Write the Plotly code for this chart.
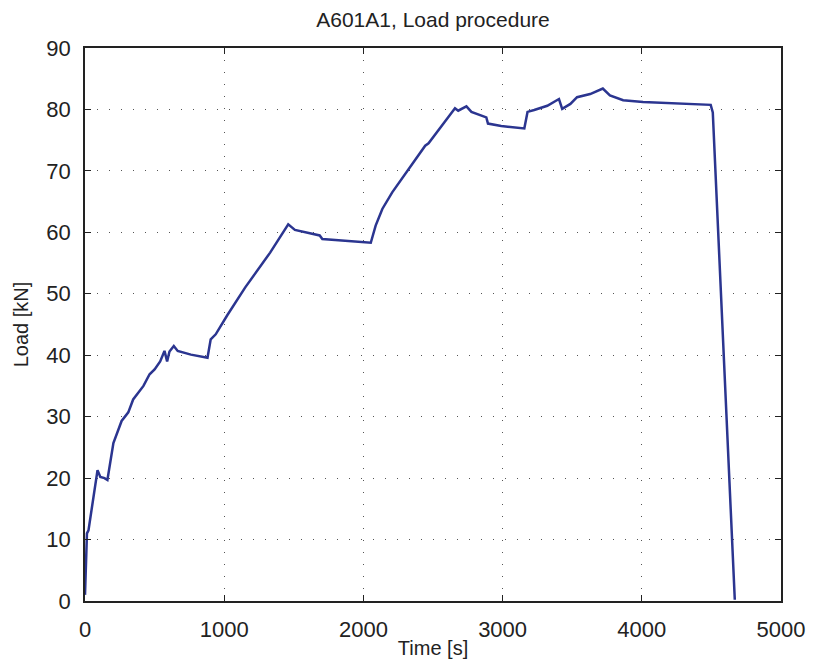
import plotly.graph_objects as go

# load history
time_s = [0, 5, 14, 25, 50, 90, 110, 140, 161, 180, 204, 263, 311, 346,
          420, 464, 500, 540, 571, 590, 607, 638, 666, 761, 880,
          903, 939, 1022, 1150, 1330, 1460, 1508, 1614, 1686, 1705,
          1922, 2053, 2088, 2136, 2207, 2326, 2444, 2468, 2563, 2658,
          2681, 2740, 2776, 2883, 2895, 2990, 3156, 3179, 3227, 3321,
          3405, 3428, 3487, 3535, 3629, 3720, 3771, 3866, 4009, 4222,
          4436, 4495, 4510, 4668]
load_kn = [1.0, 4.0, 11.0, 11.5, 15.5, 21.3, 20.2, 20.0, 19.7, 22.5, 25.7, 29.3, 30.7, 32.8,
           35.0, 36.9, 37.7, 39.0, 40.7, 39.0, 40.6, 41.5, 40.7, 40.1, 39.6,
           42.6, 43.4, 46.5, 51.0, 56.7, 61.3, 60.4, 59.9, 59.5, 58.9,
           58.5, 58.3, 61.1, 63.8, 66.5, 70.3, 74.1, 74.5, 77.4, 80.2,
           79.8, 80.5, 79.6, 78.7, 77.7, 77.3, 76.9, 79.6, 79.9, 80.6,
           81.7, 80.1, 80.9, 82.0, 82.5, 83.4, 82.3, 81.5, 81.2, 81.0,
           80.9, 80.75, 79.5, 0.2]

x_ticks = [0, 1000, 2000, 3000, 4000, 5000]
y_ticks = [0, 10, 20, 30, 40, 50, 60, 70, 80, 90]

fig = go.Figure()
fig.add_trace(go.Scatter(x=time_s, y=load_kn, mode="lines",
                         line=dict(color="#2b3590", width=2.5),
                         showlegend=False))

axis_style = dict(showline=True, linecolor="#222222", linewidth=1.5, mirror="ticks",
                  ticks="inside", ticklen=6, tickcolor="#222222", tickwidth=1,
                  showgrid=True, gridcolor="#555555", gridwidth=1, griddash="1px,11px",
                  zeroline=False, ticklabelstandoff=8,
                  tickfont=dict(size=22, color="#222222"))

fig.update_xaxes(range=[0, 5000], tickvals=x_ticks,
                 title=dict(text="Time [s]", font=dict(size=20, color="#222222"), standoff=0),
                 **axis_style)
fig.update_yaxes(range=[0, 90], tickvals=y_ticks,
                 title=dict(text="Load [kN]", font=dict(size=20, color="#222222"), standoff=12),
                 **axis_style)

# page adds an 8px body margin, so the figure is a bit smaller than the window
fig.update_layout(
    width=809, height=660,
    margin=dict(l=75, r=31, t=40, b=67),
    paper_bgcolor="white", plot_bgcolor="white",
    font=dict(family="Liberation Sans, Arial, sans-serif", color="#222222"),
    title=dict(text="A601A1, Load procedure", xref="paper", x=0.5, xanchor="center",
               y=0.982, yanchor="middle", font=dict(size=21, color="#222222")),
)

fig.write_html("out.html")
